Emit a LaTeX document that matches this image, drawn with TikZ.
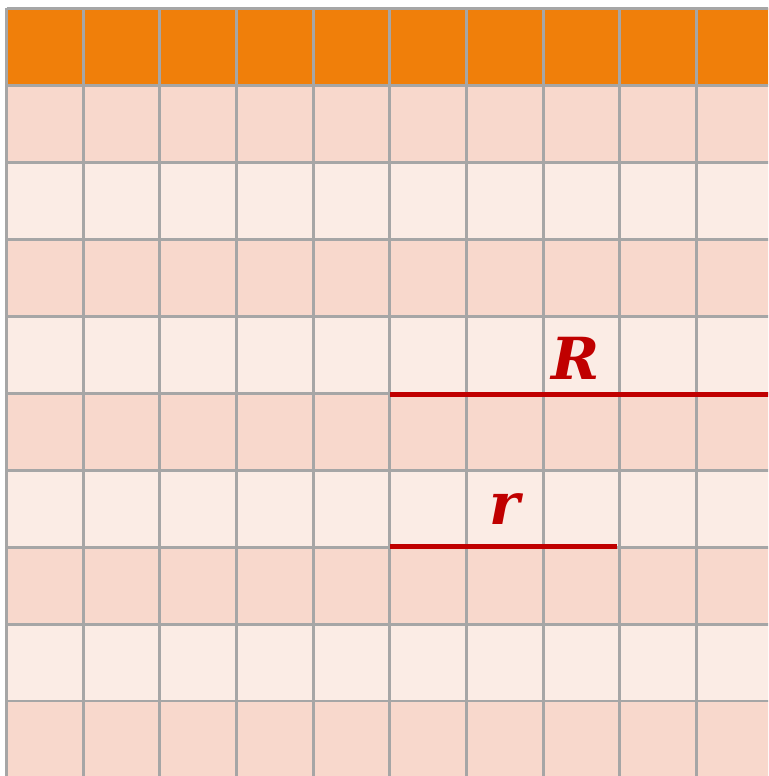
\documentclass[tikz,border=0pt]{standalone}
\usepackage{fontspec}
\newfontfamily\lblfont{DejaVu Serif}
\definecolor{hdr}{HTML}{F07F0A}
\definecolor{darkrow}{HTML}{F8D8CC}
\definecolor{lightrow}{HTML}{FBECE5}
\definecolor{gridc}{HTML}{A6A6A6}
\definecolor{redl}{HTML}{C00000}
\tikzset{
  gridline/.style={draw=gridc, line width=2.8pt},
  radius line/.style={draw=redl, line width=4.5pt},
  lbl/.style={text=redl, font=\lblfont\bfseries\itshape\fontsize{58}{58}\selectfont, inner sep=0pt}
}
\begin{document}
\begin{tikzpicture}[x=1pt,y=-1pt]
\useasboundingbox (0,0) rectangle (768,776);
\clip (0,0) rectangle (768,776);
\def\csx{76.67}
\def\csy{76.95}
% rows
\fill[hdr] (6,8.5) rectangle (790,{8.5+\csy});
\foreach \j in {1,...,9}{
  \pgfmathtruncatemacro{\odd}{mod(\j,2)}
  \ifnum\odd=1 \def\rc{darkrow}\else\def\rc{lightrow}\fi
  \fill[\rc] (6,{8.5+\j*\csy}) rectangle (790,{8.5+(\j+1)*\csy});
}
% grid
\foreach \i in {0,...,10}{
  \draw[gridline] ({6.5+\i*\csx},8.5) -- ({6.5+\i*\csx},800);
  \draw[gridline] (6.5,{8.5+\i*\csy}) -- (800,{8.5+\i*\csy});
}
% radii
\coordinate (c) at (390,394.5);
\coordinate (Rend) at (790,394.5);
\coordinate (rend) at (617,546.5);
\coordinate (rstart) at (390,546.5);
\draw[radius line] (c) -- (Rend);
\draw[radius line] (rstart) -- (rend);
\node[lbl] (R) at (576,358) {R};
\node[lbl] (r) at (505,509) {r};
\end{tikzpicture}
\end{document}
